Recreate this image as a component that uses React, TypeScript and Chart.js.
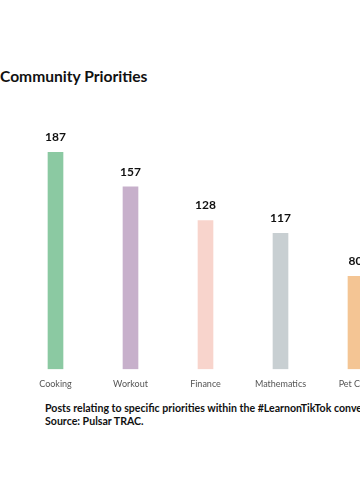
import React, { useEffect, useRef } from "react";
import { Chart, registerables } from "chart.js";

Chart.register(...registerables);

const categories = ["Cooking", "Workout", "Finance", "Mathematics", "Pet Care"];
const values = [187, 157, 128, 117, 80];
const barColors = ["#8bc9a2", "#c7b0cb", "#f8d4cc", "#c8cfd2", "#f4c594"];
const titleText = "Community Priorities";
const captionLines = [
  "Posts relating to specific priorities within the #LearnonTikTok conversation.",
  "Source: Pulsar TRAC.",
];

const FONT = "Lato, 'Noto Sans', sans-serif";

export default function App() {
  const ref = useRef<HTMLCanvasElement | null>(null);

  useEffect(() => {
    if (!ref.current) return;
    const labelPlugin = {
      id: "valueLabels",
      afterDatasetsDraw(chart: any) {
        const ctx = chart.ctx;
        const meta = chart.getDatasetMeta(0);
        ctx.save();
        ctx.font = `bold 12px ${FONT}`;
        ctx.fillStyle = "#111";
        ctx.textAlign = "center";
        ctx.textBaseline = "bottom";
        meta.data.forEach((bar: any, i: number) => {
          ctx.fillText(String(values[i]), bar.x, bar.y - 9);
        });
        ctx.restore();
      },
    };
    const chart = new Chart(ref.current, {
      type: "bar",
      data: {
        labels: categories,
        datasets: [
          {
            data: values,
            backgroundColor: barColors,
            borderWidth: 0,
            barThickness: 15,
          },
        ],
      },
      options: {
        animation: false,
        responsive: false,
        maintainAspectRatio: false,
        layout: { padding: { left: 18, right: 27, top: 152, bottom: 2 } },
        plugins: { legend: { display: false }, tooltip: { enabled: false }, title: { display: false } },
        scales: {
          x: {
            grid: { display: false, drawTicks: false },
            border: { display: false },
            ticks: { color: "#555", font: { family: FONT, size: 9 }, padding: 9, maxRotation: 0 },
          },
          y: {
            display: false,
            min: 0,
            max: 187,
          },
        },
      },
      plugins: [labelPlugin],
    });
    return () => chart.destroy();
  }, []);

  return (
    <div
      style={{
        position: "fixed",
        left: 0,
        top: 0,
        width: 360,
        height: 500,
        overflow: "hidden",
        background: "#fff",
      }}
    >
      <div
        style={{
          position: "absolute",
          left: 0,
          top: 66,
          whiteSpace: "nowrap",
          font: `bold 15.6px ${FONT}`,
          color: "#111",
          lineHeight: "20px",
        }}
      >
        {titleText}
      </div>
      <canvas ref={ref} width={420} height={400} style={{ position: "absolute", left: 0, top: 0, width: 420, height: 400 }} />
      <div
        style={{
          position: "absolute",
          left: 45,
          top: 402,
          whiteSpace: "nowrap",
          font: `bold 10.6px ${FONT}`,
          color: "#111",
          lineHeight: "13px",
        }}
      >
        {captionLines.map((l, i) => (
          <div key={i}>{l}</div>
        ))}
      </div>
    </div>
  );
}
